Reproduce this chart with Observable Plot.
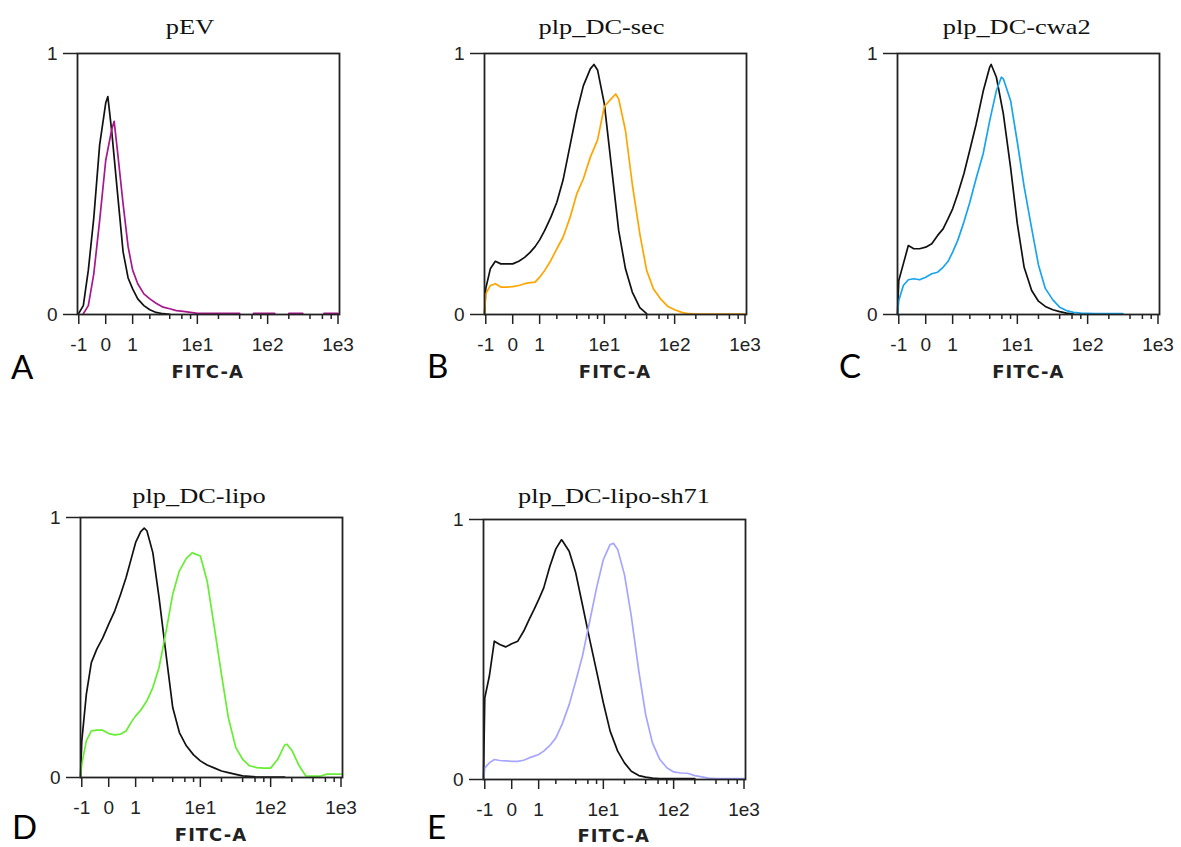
<!DOCTYPE html>
<html>
<head>
<meta charset="utf-8">
<script src="https://cdn.jsdelivr.net/npm/d3@7"></script>
<script src="https://cdn.jsdelivr.net/npm/@observablehq/plot@0.6"></script>
<style>
  html, body { margin: 0; padding: 0; background: #fff; }
  #fig { position: relative; width: 1181px; height: 847px; overflow: hidden; background: #fff; }
  #fig .panel { position: absolute; }
  #overlay { position: absolute; left: 0; top: 0; pointer-events: none; }
</style>
</head>
<body>
<div id="fig"></div>
<script>
// ---------------- data ----------------
// FITC-A channel positions at which the histogram heights were read
const fitcA = [-1.06, -1, -0.8, -0.6, -0.4, -0.2, 0, 0.2, 0.4, 0.6, 0.8, 1, 1.25, 1.6, 2, 2.5, 3.2, 4, 5, 6.3, 8,
  10, 12.5, 16, 20, 25, 32, 40, 50, 63, 80, 100, 126, 158, 200, 251, 316, 398, 501, 631, 794, 1000];

const titles = ["pEV", "plp_DC-sec", "plp_DC-cwa2", "plp_DC-lipo", "plp_DC-lipo-sh71"];
const letters = ["A", "B", "C", "D", "E"];
const axisTitle = "FITC-A";
const majorTicks = [-1, 0, 1, 10, 100, 1000];
const majorLabels = ["-1", "0", "1", "1e1", "1e2", "1e3"];
const minorTicks = [2, 4, 6, 8, 20, 40, 60, 80, 200, 400, 600, 800];
const yTicks = [0, 1];
const xDomain = [-1.06, 1050];
const controlColor = "#111111";
const sampleColors = ["#a8178b", "#ffa500", "#1ba4ee", "#66ee33", "#a6a6ff"];

// normalized counts (mode = 1), aligned with fitcA; null = no events
const pEV_control = [null, 0.005, 0.034, 0.17, 0.37, 0.65, 0.81, 0.70, 0.46, 0.24, 0.14, 0.098, 0.06, 0.034, 0.018, 0.008, 0.003, 0.001,
  null, null, null, null, null, null, null, null, null, null, null, null, null, null, null, null, null, null, null, null, null, null, null, null];
const pEV_sample = [null, null, 0.003, 0.034, 0.156, 0.36, 0.59, 0.71, 0.62, 0.424, 0.26, 0.17, 0.118, 0.079, 0.06, 0.043, 0.028, 0.022, 0.015, 0.012, 0.008,
  0.004, 0.004, 0.004, 0.004, 0.004, 0.004, 0.004, null, 0.004, 0.004, 0.004, 0.004, null, 0.004, 0.004, 0.004, null, null, 0.004, 0.004, 0.004];

const sec_control = [0, 0.10, 0.175, 0.204, 0.194, 0.194, 0.194, 0.204, 0.219, 0.238, 0.26, 0.286, 0.322, 0.373, 0.43, 0.515, 0.65, 0.775, 0.877, 0.941, 0.937,
  0.807, 0.577, 0.322, 0.175, 0.086, 0.026, 0.003, null, null, null, null, null, null, null, null, null, null, null, null, null, null];
const sec_sample = [0, 0.079, 0.111, 0.118, 0.105, 0.105, 0.107, 0.111, 0.118, 0.122, 0.124, 0.143, 0.169, 0.207, 0.252, 0.296, 0.373, 0.462, 0.52, 0.603, 0.669,
  0.797, 0.826, 0.826, 0.705, 0.50, 0.309, 0.169, 0.098, 0.06, 0.031, 0.018, 0.008, 0.003, 0.002, 0.002, 0.002, 0.002, 0.002, 0.002, 0.002, 0.002];

const cwa2_control = [0, 0.13, 0.194, 0.264, 0.252, 0.252, 0.258, 0.271, 0.303, 0.328, 0.367, 0.405, 0.462, 0.539, 0.63, 0.728, 0.855, 0.948, 0.909, 0.769, 0.564,
  0.347, 0.181, 0.092, 0.051, 0.031, 0.018, 0.011, 0.005, 0.002, null, null, null, null, null, null, null, null, null, null, null, null];
const cwa2_sample = [0, 0.054, 0.111, 0.133, 0.137, 0.133, 0.143, 0.156, 0.162, 0.181, 0.204, 0.239, 0.284, 0.354, 0.43, 0.52, 0.616, 0.743, 0.858, 0.903, 0.82,
  0.66, 0.49, 0.33, 0.19, 0.10, 0.056, 0.028, 0.015, 0.008, 0.005, 0.004, 0.003, 0.003, 0.003, 0.003, 0.003, null, null, null, null, null];

const lipo_control = [0, 0.14, 0.32, 0.442, 0.494, 0.536, 0.59, 0.641, 0.705, 0.769, 0.84, 0.904, 0.946, 0.949, 0.865, 0.692, 0.47, 0.269, 0.173, 0.122, 0.087,
  0.064, 0.048, 0.036, 0.025, 0.019, 0.012, 0.006, 0.004, 0.002, 0.002, 0.002, 0.002, 0.002, null, null, null, null, null, null, null, null];
const lipo_sample = [0, 0.051, 0.141, 0.179, 0.182, 0.182, 0.169, 0.164, 0.167, 0.179, 0.212, 0.237, 0.259, 0.295, 0.346, 0.423, 0.564, 0.705, 0.795, 0.843, 0.862,
  0.852, 0.756, 0.57, 0.397, 0.231, 0.115, 0.07, 0.045, 0.038, 0.036, 0.036, 0.07, 0.125, 0.105, 0.048, 0.006, 0.005, 0.005, 0.013, 0.013, 0.013];

const sh71_control = [0, 0.314, 0.397, 0.532, 0.519, 0.51, 0.522, 0.532, 0.57, 0.615, 0.654, 0.692, 0.737, 0.82, 0.887, 0.92, 0.878, 0.795, 0.673, 0.545, 0.417,
  0.295, 0.186, 0.109, 0.064, 0.032, 0.015, 0.009, 0.005, 0.003, 0.003, 0.003, 0.003, 0.003, 0.003, null, null, null, null, null, null, null];
const sh71_sample = [0, 0.045, 0.064, 0.077, 0.073, 0.072, 0.07, 0.07, 0.074, 0.083, 0.09, 0.096, 0.109, 0.131, 0.16, 0.212, 0.288, 0.378, 0.474, 0.602, 0.737,
  0.846, 0.904, 0.885, 0.788, 0.628, 0.417, 0.25, 0.141, 0.079, 0.045, 0.029, 0.025, 0.024, 0.015, 0.01, 0.005, 0.003, 0.003, 0.003, 0.003, 0.003];

// peak positions read between grid channels: [FITC-A, height]
const pEV_peaks = [[0.07, 0.835], [0.28, 0.74]];
const sec_peaks = [[7.1, 0.958], [14.5, 0.845]];
const cwa2_peaks = [[4.2, 0.958], [5.9, 0.909]];
const lipo_peaks = [[1.44, 0.959], [7.7, 0.865], [170, 0.128]];
const sh71_peaks = [[2.45, 0.922], [14, 0.908]];

// ---------------- layout (pixel frame of each panel) ----------------
const frameW = 262;
const layout = [
  {left: 76.7, top: 53, h: 261, titleX: 190, titleY: 33.5, letterX: 11, letterY: 379, labelY: 378},
  {left: 484, top: 52.7, h: 261, titleX: 601.5, titleY: 34, letterX: 427, letterY: 378, labelY: 378},
  {left: 897.3, top: 53, h: 261, titleX: 1016.7, titleY: 34, letterX: 839, letterY: 378, labelY: 378},
  {left: 80, top: 517.3, h: 260, titleX: 199, titleY: 503, letterX: 12, letterY: 839, labelY: 841},
  {left: 482.7, top: 519.3, h: 260, titleX: 614, titleY: 503, letterX: 427, letterY: 839, labelY: 842}
];

const panels = [
  {control: pEV_control, sample: pEV_sample, peaks: [[pEV_peaks[0]], [pEV_peaks[1]]]},
  {control: sec_control, sample: sec_sample, peaks: [[sec_peaks[0]], [sec_peaks[1]]]},
  {control: cwa2_control, sample: cwa2_sample, peaks: [[cwa2_peaks[0]], [cwa2_peaks[1]]]},
  {control: lipo_control, sample: lipo_sample, peaks: [[lipo_peaks[0]], [lipo_peaks[1], lipo_peaks[2]]]},
  {control: sh71_control, sample: sh71_sample, peaks: [[sh71_peaks[0]], [sh71_peaks[1]]]}
];

function series(values, extra) {
  const rows = fitcA.map((x, i) => ({x, y: values[i]}));
  for (const [x, y] of extra) rows.push({x, y});
  rows.sort((a, b) => a.x - b.x);
  return rows;
}

const tickLabel = new Map(majorTicks.map((t, i) => [Math.asinh(t), majorLabels[i]]));
const fig = document.getElementById("fig");
const mL = 46, mR = 8, mT = 8, mB = 44;

panels.forEach((p, k) => {
  const L = layout[k];
  const chart = Plot.plot({
    width: frameW + mL + mR,
    height: L.h + mT + mB,
    marginLeft: mL, marginRight: mR, marginTop: mT, marginBottom: mB,
    style: {background: "transparent", fontFamily: "'Liberation Sans', Arial, sans-serif", fontSize: "19px", color: "#222", overflow: "visible"},
    x: {domain: xDomain.map(Math.asinh)},
    y: {domain: [0, 1]},
    marks: [
      Plot.axisX(majorTicks.map(Math.asinh), {tickSize: 10, tickPadding: 13, strokeWidth: 1.5, tickFormat: d => tickLabel.get(d), label: null, fontSize: 19}),
      Plot.axisX(minorTicks.map(Math.asinh), {tickSize: 5, strokeWidth: 1.5, tickFormat: () => "", label: null}),
      Plot.axisY(yTicks, {tickSize: 14, tickPadding: 6, strokeWidth: 1.5, tickFormat: d => String(d), label: null, fontSize: 19}),
      Plot.line(series(p.control, p.peaks[0]), {x: d => Math.asinh(d.x), y: "y", stroke: controlColor, strokeWidth: 1.7}),
      Plot.line(series(p.sample, p.peaks[1]), {x: d => Math.asinh(d.x), y: "y", stroke: sampleColors[k], strokeWidth: 1.7}),
      Plot.frame({stroke: "#222", strokeWidth: 1.8})
    ]
  });
  chart.classList.add("panel");
  chart.style.left = (L.left - mL) + "px";
  chart.style.top = (L.top - mT) + "px";
  fig.appendChild(chart);
});

// titles, panel letters and axis titles
const ov = d3.select(fig).append("svg").attr("id", "overlay").attr("width", 1181).attr("height", 847);
layout.forEach((L, k) => {
  ov.append("text")
    .attr("transform", `translate(${L.titleX},${L.titleY}) scale(1.2,1)`)
    .attr("text-anchor", "middle")
    .style("font-family", "'Liberation Serif', 'Times New Roman', serif")
    .style("font-size", "22px").attr("fill", "#111")
    .text(titles[k]);
  ov.append("text")
    .attr("x", L.letterX).attr("y", L.letterY)
    .style("font-family", "Lato, 'Open Sans', sans-serif")
    .style("font-size", "33px").attr("fill", "#000")
    .text(letters[k]);
  ov.append("text")
    .attr("x", L.left + frameW / 2).attr("y", L.labelY)
    .attr("text-anchor", "middle")
    .style("font-family", "'DejaVu Sans', sans-serif").style("font-weight", "bold")
    .style("font-size", "18px").style("letter-spacing", "1px").attr("fill", "#222")
    .text(axisTitle);
});
</script>
</body>
</html>
